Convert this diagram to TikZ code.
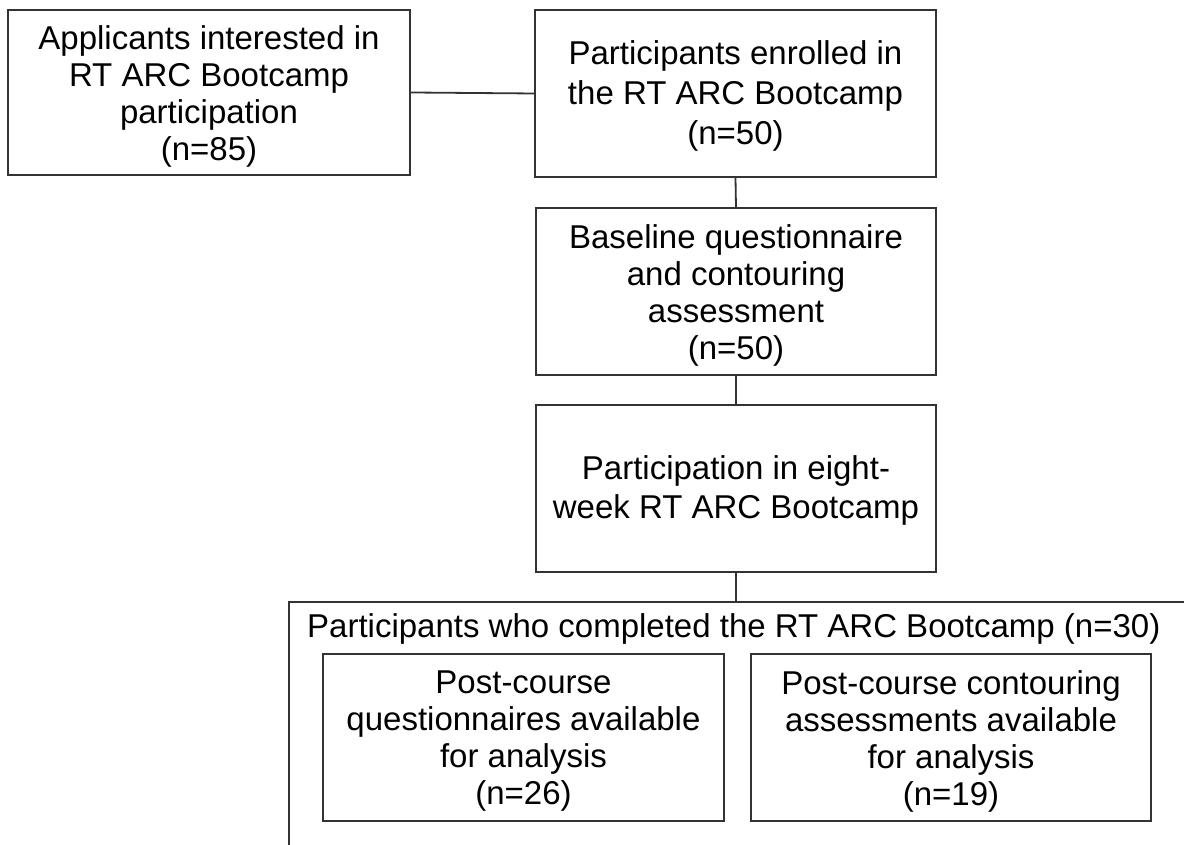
\documentclass[tikz,border=0pt]{standalone}
\usepackage{fontspec}
\setmainfont{Liberation Sans}
\begin{document}
\begin{tikzpicture}[x=1pt,y=1pt,
  box/.style={draw=black!80,line width=2pt,inner sep=0pt},
  txt/.style={inner sep=0pt,align=center,font=\fontsize{33}{37}\selectfont},
  conn/.style={draw=black!80,line width=1.8pt}]
\useasboundingbox (0,0) rectangle (1184,845);
\clip (0,0) rectangle (1184,845);
\fill[white] (0,0) rectangle (1184,845);
\node[box,minimum width=402pt,minimum height=165pt] (A) at (209,752.5) {};
\node[txt] (At) at ([yshift=-4pt]A.center)
  {Applicants interested in\\RT ARC Bootcamp\\participation\\(n=85)};
\node[box,minimum width=401pt,minimum height=167pt] (B) at (735.5,751.5) {};
\node[txt,font=\fontsize{33}{40}\selectfont] (Bt) at ([yshift=-2pt]B.center)
  {Participants enrolled in\\the RT ARC Bootcamp\\(n=50)};
\node[box,minimum width=400pt,minimum height=167pt] (C) at (736,553.5) {};
\node[txt] (Ct) at ([yshift=-4pt]C.center)
  {Baseline questionnaire\\and contouring\\assessment\\(n=50)};
\node[box,minimum width=400pt,minimum height=167pt] (D) at (736,356.5) {};
\node[txt,font=\fontsize{33}{39}\selectfont] (Dt) at ([yshift=-2pt]D.center)
  {Participation in eight-\\week RT ARC Bootcamp};
\coordinate (Etop) at (736,243);
\draw[conn,line width=2pt] (1200,243) -- (289,243) -- (289,-10);
\node[txt,anchor=west] (Et) at (307,216)
  {Participants who completed the RT ARC Bootcamp (n=30)};
\node[box,minimum width=401pt,minimum height=167pt] (F) at (523.5,107.5) {};
\node[txt] (Ft) at ([yshift=-4pt]F.center)
  {Post-course\\questionnaires available\\for analysis\\(n=26)};
\node[box,minimum width=400pt,minimum height=167pt] (G) at (951,107.5) {};
\node[txt] (Gt) at ([yshift=-4pt]G.center)
  {Post-course contouring\\assessments available\\for analysis\\(n=19)};
\draw[conn] (A.east) -- (B.west);
\draw[conn] (B.south) -- (C.north);
\draw[conn] (C.south) -- (D.north);
\draw[conn] (D.south) -- (Etop);
\end{tikzpicture}
\end{document}
